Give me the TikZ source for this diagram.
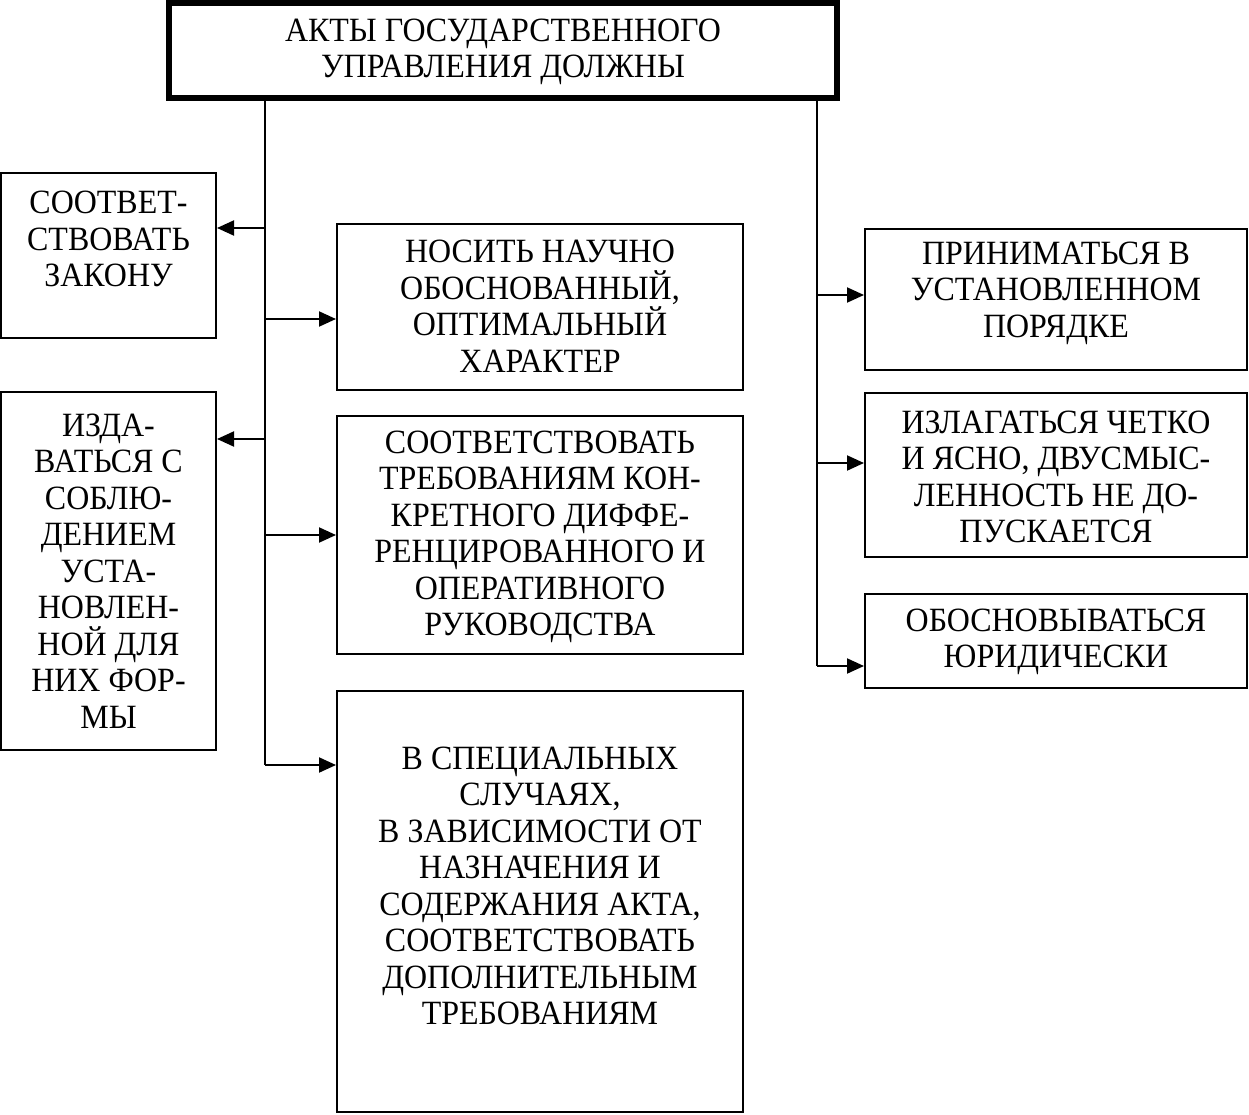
\documentclass[tikz,border=0pt]{standalone}
\usepackage{fontspec}
\setmainfont[FakeStretch=0.94]{Liberation Serif}
\usetikzlibrary{arrows.meta}
\tikzset{
  box/.style={draw=black, line width=2pt, rectangle, inner sep=0pt, fill=white},
  mainbox/.style={draw=black, line width=6pt, rectangle, inner sep=0pt, fill=white},
  txt/.style={align=center, inner sep=0pt, font=\fontsize{34pt}{36.5pt}\selectfont},
  conn/.style={draw=black, line width=2pt},
  arr/.style={draw=black, line width=2pt, -{Triangle[length=17pt,width=15pt]}},
}
\begin{document}
\begin{tikzpicture}[x=1pt,y=-1pt]
\useasboundingbox[fill=white] (0,0) rectangle (1249,1115);

% boxes
\node[mainbox, minimum width=668pt, minimum height=95pt] (top) at (503,50.5) {};
\node[box, minimum width=215pt, minimum height=165pt] (c1) at (108.5,255.5) {};
\node[box, minimum width=215pt, minimum height=358pt] (c2) at (108.5,571) {};
\node[box, minimum width=406pt, minimum height=166pt] (m1) at (540,307) {};
\node[box, minimum width=406pt, minimum height=238pt] (m2) at (540,535) {};
\node[box, minimum width=406pt, minimum height=421pt] (m3) at (540,901.5) {};
\node[box, minimum width=382pt, minimum height=141pt] (r1) at (1056,299.5) {};
\node[box, minimum width=382pt, minimum height=164pt] (r2) at (1056,475) {};
\node[box, minimum width=382pt, minimum height=94pt] (r3) at (1056,641) {};

% texts
\node[txt] (top-t) at (503,52) {АКТЫ ГОСУДАРСТВЕННОГО\\УПРАВЛЕНИЯ ДОЛЖНЫ};
\node[txt] (c1-t) at (108.5,239) {СООТВЕТ-\\СТВОВАТЬ\\ЗАКОНУ};
\node[txt] (c2-t) at (108.5,571) {ИЗДА-\\ВАТЬСЯ С\\СОБЛЮ-\\ДЕНИЕМ\\УСТА-\\НОВЛЕН-\\НОЙ ДЛЯ\\НИХ ФОР-\\МЫ};
\node[txt] (m1-t) at (540,306) {НОСИТЬ НАУЧНО\\ОБОСНОВАННЫЙ,\\ОПТИМАЛЬНЫЙ\\ХАРАКТЕР};
\node[txt] (m2-t) at (540,537) {СООТВЕТСТВОВАТЬ\\ТРЕБОВАНИЯМ КОН-\\КРЕТНОГО ДИФФЕ-\\РЕНЦИРОВАННОГО И\\ОПЕРАТИВНОГО\\РУКОВОДСТВА};
\node[txt] (m3-t) at (540,886) {В СПЕЦИАЛЬНЫХ\\СЛУЧАЯХ,\\В ЗАВИСИМОСТИ ОТ\\НАЗНАЧЕНИЯ И\\СОДЕРЖАНИЯ АКТА,\\СООТВЕТСТВОВАТЬ\\ДОПОЛНИТЕЛЬНЫМ\\ТРЕБОВАНИЯМ};
\node[txt] (r1-t) at (1056,293) {ПРИНИМАТЬСЯ В\\УСТАНОВЛЕННОМ\\ПОРЯДКЕ};
\node[txt] (r2-t) at (1056,477) {ИЗЛАГАТЬСЯ ЧЕТКО\\И ЯСНО, ДВУСМЫС-\\ЛЕННОСТЬ НЕ ДО-\\ПУСКАЕТСЯ};
\node[txt] (r3-t) at (1056,642) {ОБОСНОВЫВАТЬСЯ\\ЮРИДИЧЕСКИ};

% junctions on left trunk
\coordinate (j1) at (265,228);
\coordinate (j2) at (265,319);
\coordinate (j3) at (265,439);
\coordinate (j4) at (265,535);
\coordinate (j5) at (265,765);
% junctions on right trunk
\coordinate (k1) at (817,295);
\coordinate (k2) at (817,463);
\coordinate (k3) at (817,666);

\draw[conn] (top.south -| j1) -- (j5);
\draw[conn] (top.south -| k1) -- (k3);

\draw[arr] (j1) -- (c1.east |- j1);
\draw[arr] (j3) -- (c2.east |- j3);
\draw[arr] (j2) -- (m1.west |- j2);
\draw[arr] (j4) -- (m2.west |- j4);
\draw[arr] (j5) -- (m3.west |- j5);
\draw[arr] (k1) -- (r1.west |- k1);
\draw[arr] (k2) -- (r2.west |- k2);
\draw[arr] (k3) -- (r3.west |- k3);
\end{tikzpicture}
\end{document}
